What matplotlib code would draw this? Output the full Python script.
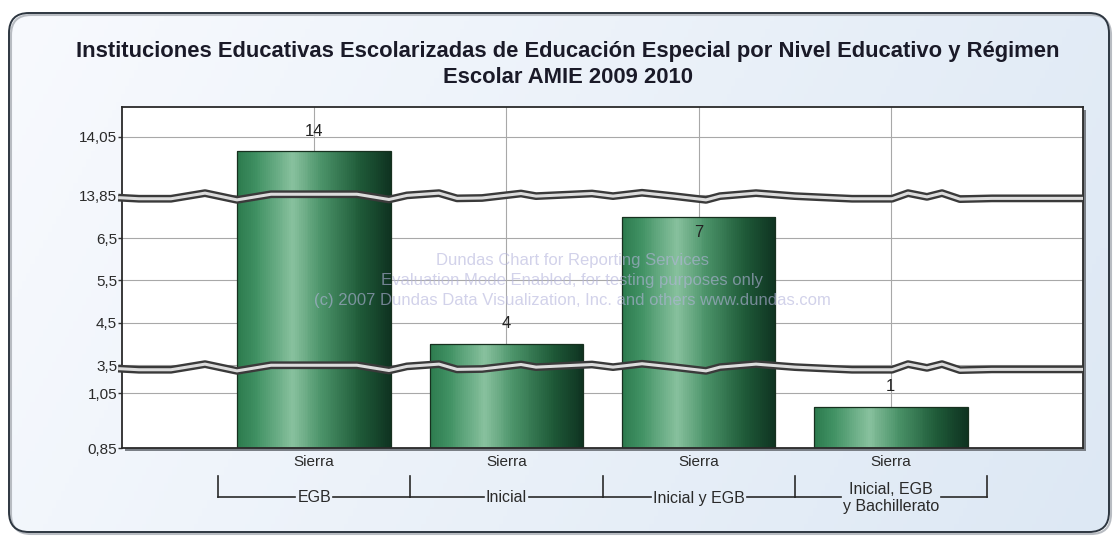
import numpy as np
import matplotlib
matplotlib.use("Agg")
import matplotlib.pyplot as plt
from matplotlib.patches import FancyBboxPatch, Rectangle
from matplotlib.colors import LinearSegmentedColormap
from matplotlib.lines import Line2D
from matplotlib.ticker import NullLocator

plt.rcParams['font.family'] = ['Liberation Sans', 'DejaVu Sans']

# ---------------- data ----------------
title_lines = ["Instituciones Educativas Escolarizadas de Educación Especial por Nivel Educativo y Régimen",
               "Escolar AMIE 2009 2010"]
groups = ["EGB", "Inicial", "Inicial y EGB", "Inicial, EGB\ny Bachillerato"]
regimen = ["Sierra", "Sierra", "Sierra", "Sierra"]
values = [14, 4, 7, 1]
ytick_values = [0.85, 1.05, 3.5, 4.5, 5.5, 6.5, 13.85, 14.05]
ytick_labels = ["0,85", "1,05", "3,5", "4,5", "5,5", "6,5", "13,85", "14,05"]
watermark = ["Dundas Chart for Reporting Services",
             "Evaluation Mode Enabled, for testing purposes only",
             "(c) 2007 Dundas Data Visualization, Inc. and others www.dundas.com"]

# ---------------- scale with breaks ----------------
y_min, y_max = 0.85, 14.152
seg_vals = [0.85, 1.141, 3.453, 7.469, 13.8466, 14.152]
seg_pos = [0.0, 80.0, 81.0, 251.0, 252.0, 341.0]
ext_vals = np.array([seg_vals[0] - 100] + seg_vals + [seg_vals[-1] + 100])
ext_pos = np.array([seg_pos[0] - 100 * 275] + seg_pos + [seg_pos[-1] + 100 * 291])


def fwd(v):
    return np.interp(np.asarray(v, dtype=float), ext_vals, ext_pos)


def inv(p):
    return np.interp(np.asarray(p, dtype=float), ext_pos, ext_vals)


W, H = 1116, 537
fig = plt.figure(figsize=(W / 100, H / 100), dpi=100)
fig.patch.set_facecolor('white')

# ---------------- background panel ----------------
bg = fig.add_axes([0, 0, 1, 1], zorder=-10)
bg.set_xlim(0, W)
bg.set_ylim(0, H)
bg.axis('off')
gx = np.linspace(0, 1, 256)
gy = np.linspace(0, 1, 64)
GX, GY = np.meshgrid(gx, gy)
c0 = np.array([248, 250, 254]) / 255.0
c1 = np.array([221, 232, 244]) / 255.0
tmix = np.clip(0.8 * GX + 0.2 * (1 - GY), 0, 1)[..., None]
img = c0 * (1 - tmix) + c1 * tmix
panel = FancyBboxPatch((9, 5), 1100, 519, boxstyle="round,pad=0,rounding_size=20",
                       facecolor='none', edgecolor='#2d3640', linewidth=1.4, zorder=2)
shadow_panel = FancyBboxPatch((11, 3), 1100, 519, boxstyle="round,pad=0,rounding_size=20",
                              facecolor='none', edgecolor='#b8bcc2', linewidth=1.5, zorder=1)
bg.add_patch(shadow_panel)
im = bg.imshow(img, extent=(9, 1109, 524, 5), aspect='auto', zorder=0)
bg.add_patch(panel)
im.set_clip_path(panel)

# ---------------- title ----------------
for line, ybase in zip(title_lines, [57, 83]):
    fig.text(568 / W, 1 - ybase / H, line, ha='center', va='baseline',
             fontsize=15.8, fontweight='bold', color='#1a1a28')

# ---------------- plot area ----------------
L, R, T, B = 122, 1083, 107, 448
ax = fig.add_axes([L / W, 1 - B / H, (R - L) / W, (B - T) / H], zorder=1)
ax.set_facecolor('white')
ax.set_yscale('function', functions=(fwd, inv))
ax.set_ylim(y_min, y_max)
ax.set_xlim(0, 5)
ax.set_yticks(ytick_values, ytick_labels)
ax.yaxis.set_minor_locator(NullLocator())
ax.xaxis.set_minor_locator(NullLocator())
xpos = np.arange(1, len(values) + 1)
ax.set_xticks(xpos, regimen)
ax.tick_params(axis='y', length=3, width=1, color='#333333', pad=0.5, labelsize=11, labelcolor='#2a2a2a')
ax.tick_params(axis='x', length=0, pad=5, labelsize=11, labelcolor='#2a2a2a')
ax.grid(True, color='#a8a8a8', linewidth=0.8)
ax.set_axisbelow(True)
for s in ax.spines.values():
    s.set_color('#2a2a2a')
    s.set_linewidth(1.3)

# frame shadow
fig.add_artist(Rectangle(((L + 3) / W, 1 - (B + 3) / H), (R - L) / W, (B - T) / H,
                         transform=fig.transFigure, facecolor='#7a7f86', edgecolor='none', zorder=0.5))

# bars with cylinder-like gradient
cmap = LinearSegmentedColormap.from_list('cyl', [
    (0.0, '#2c7a4d'), (0.12, '#3f9062'), (0.36, '#88c19e'), (0.55, '#4a9268'),
    (0.8, '#1f5a38'), (1.0, '#0f3321')])
bw = 0.8
nstrip = 80
for c, v in zip(xpos, values):
    lefts = c - bw / 2 + np.arange(nstrip) * bw / nstrip
    cols = cmap((np.arange(nstrip) + 0.5) / nstrip)
    ax.bar(lefts, v - y_min, width=bw / nstrip * 1.02, bottom=y_min, align='edge',
           color=cols, linewidth=0, zorder=2)
    ax.bar(c, v - y_min, width=bw, bottom=y_min, fill=False, edgecolor='#17301f',
           linewidth=0.9, zorder=2.1)

# watermark (drawn faintly over everything in the plot)
for txt, ypx in zip(watermark, [261, 281, 300]):
    ax.text((572 - L) / (R - L), (B - ypx) / (B - T), txt, transform=ax.transAxes,
            ha='center', va='center', fontsize=12, color='#b4b4dc', alpha=0.6, zorder=2.5)

# value labels
for c, v in zip(xpos, values):
    if fwd(v) > fwd(6.6) and v < 13:
        ax.annotate(str(v), (c, v), xytext=(0, -11), textcoords='offset points',
                    ha='center', va='center', fontsize=12, color='#222222', zorder=5)
    else:
        ax.annotate(str(v), (c, v), xytext=(0, 14.5), textcoords='offset points',
                    ha='center', va='center', fontsize=12, color='#222222', zorder=5)

# scale-break wavy bands (decoration)
wave_px = [122, 139, 171, 205, 221, 237, 271, 321, 357, 389, 407, 439, 457, 482, 521, 536,
           560, 592, 613, 642, 674, 706, 720, 756, 795, 852, 892, 908, 927, 942, 960, 992, 1083]
wave_off = [-1.5, -3, -3, 4.5, 0, -4.5, 3, 3, 3, -4, 1.5, 4.5, -2.5, -2, 4, 0.5,
            2, 4, 0.5, 5, 0.5, -4.5, 0.5, 4.5, 0.5, -3, -3, 4.5, -0.5, 4.5, -3.5, -2.5, -2.5]
wx = (np.array(wave_px) - L) / (R - L)
wx[0] = -0.004
p_lo, p_hi = fwd(y_min), fwd(y_max)
for gap_lo, gap_hi in [(seg_vals[1], seg_vals[2]), (seg_vals[3], seg_vals[4])]:
    mid = (fwd(gap_lo) + fwd(gap_hi)) / 2.0
    yc = (mid - p_lo) / (p_hi - p_lo)
    wy = yc + np.array(wave_off) * 0.75 / (B - T)
    ax.plot(wx, wy, transform=ax.transAxes, color='#3a3a3a', linewidth=5.6,
            solid_joinstyle='round', solid_capstyle='butt', clip_on=False, zorder=3)
    ax.plot(wx, wy, transform=ax.transAxes, color='#dcdcdc', linewidth=2.2,
            solid_joinstyle='round', solid_capstyle='butt', clip_on=False, zorder=3.1)

# group labels and brackets
ytop_b, ybot_b = 476, 497
gtexts = []
for c, g in zip(xpos, groups):
    xf = ax.transData.transform((c, 1.0))[0] / W
    t = fig.text(xf, 1 - 498 / H, g, ha='center', va='center', fontsize=11.5,
                 color='#2a2a2a', linespacing=1.1)
    gtexts.append(t)

fig.canvas.draw()
rend = fig.canvas.get_renderer()
yb = 1 - ybot_b / H
yt = 1 - ytop_b / H
for c, t in zip(xpos, gtexts):
    bb = t.get_window_extent(rend)
    xl = ax.transData.transform((c - 0.5, 1.0))[0]
    xr = ax.transData.transform((c + 0.5, 1.0))[0]
    segs = [(xl, bb.x0 - 2), (bb.x1 + 2, xr)]
    for a, b in segs:
        fig.add_artist(Line2D([a / W, b / W], [yb, yb], transform=fig.transFigure,
                              color='#2a2a2a', linewidth=1.2))
for k in range(len(values) + 1):
    xk = ax.transData.transform((k + 0.5, 1.0))[0] / W
    fig.add_artist(Line2D([xk, xk], [yb, yt], transform=fig.transFigure,
                          color='#2a2a2a', linewidth=1.2))

fig.savefig('out.png', dpi=100)
